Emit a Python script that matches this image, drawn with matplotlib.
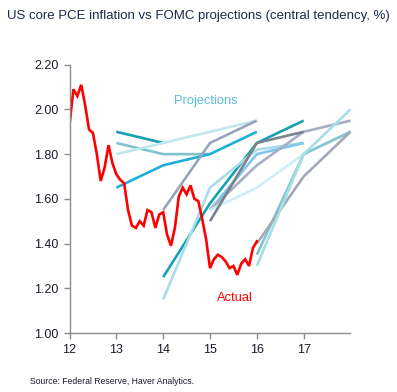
import matplotlib
matplotlib.use("Agg")
import matplotlib.pyplot as plt

plt.rcParams['font.family'] = ['Liberation Sans', 'DejaVu Sans']

# Actual core PCE inflation, monthly Jan 2012 - Jan 2016
actual = [1.93, 2.09, 2.06, 2.11, 2.02, 1.91, 1.895, 1.80, 1.68, 1.74, 1.84, 1.76,
          1.71, 1.685, 1.67, 1.55, 1.48, 1.47, 1.50, 1.48, 1.55, 1.54, 1.47, 1.53,
          1.54, 1.44, 1.39, 1.47, 1.61, 1.65, 1.62, 1.66, 1.60, 1.59, 1.51, 1.42,
          1.29, 1.33, 1.35, 1.34, 1.32, 1.29, 1.30, 1.26, 1.31, 1.33, 1.30, 1.38,
          1.41]
actual_x = [12 + i / 12 for i in range(len(actual))]

# FOMC projections (central tendency midpoints)
proj_years = [
    [13, 14],
    [13, 14, 15],
    [13, 14, 15, 16],
    [13, 14, 15, 16],
    [14, 15, 16],
    [14, 15, 16, 17],
    [14, 15, 16, 17],
    [15, 16, 17],
    [15, 16, 17, 18],
    [15, 16, 17, 18],
    [15, 16, 17],
    [16, 17, 18],
    [16, 17, 18],
    [16, 17, 18],
]
proj_values = [
    [1.90, 1.85],
    [1.85, 1.80, 1.80],
    [1.80, 1.85, 1.90, 1.95],
    [1.65, 1.75, 1.80, 1.90],
    [1.55, 1.85, 1.95],
    [1.25, 1.58, 1.85, 1.95],
    [1.15, 1.65, 1.82, 1.85],
    [1.55, 1.80, 1.85],
    [1.55, 1.75, 1.90, 1.95],
    [1.55, 1.65, 1.80, 1.90],
    [1.50, 1.85, 1.90],
    [1.35, 1.80, 1.90],
    [1.40, 1.70, 1.90],
    [1.30, 1.80, 2.00],
]
proj_colors = [
    '#16a0b4', '#80c3cb', '#bfe8ee', '#1eaedb',
    '#98a6bb', '#14a3b3', '#a9dde6',
    '#7fc6ec', '#a6afc3', '#cdeef5', '#7b838e',
    '#84c4cd', '#a3aab6', '#a5dfe5',
]

fig = plt.figure(figsize=(3.97, 3.92), dpi=100)
ax = fig.add_axes([69.5 / 397, 59 / 392, 281 / 397, 268.3 / 392])

for xs, ys, c in zip(proj_years, proj_values, proj_colors):
    ax.plot(xs, ys, color=c, lw=1.9, solid_capstyle='butt', clip_on=False)

ax.plot(actual_x, actual, color='#ff0000', lw=1.9, solid_joinstyle='miter')

ax.set_xlim(12, 18)
ax.set_ylim(1.0, 2.2)
ax.set_xticks([12, 13, 14, 15, 16, 17])
ax.set_xticklabels(['12', '13', '14', '15', '16', '17'])
ax.set_yticks([1.0, 1.2, 1.4, 1.6, 1.8, 2.0, 2.2])
ax.set_yticklabels(['1.00', '1.20', '1.40', '1.60', '1.80', '2.00', '2.20'])
for s in ['top', 'right']:
    ax.spines[s].set_visible(False)
for s in ['left', 'bottom']:
    ax.spines[s].set_color('#8c8c8c')
    ax.spines[s].set_linewidth(1.0)
ax.tick_params(axis='both', colors='#8c8c8c', labelcolor='#1a1a2a', labelsize=9,
               length=4, width=1.0, direction='out')
ax.tick_params(axis='x', pad=4)
ax.tick_params(axis='y', pad=4)

ax.text(14.91, 2.038, 'Projections', color='#5bbde0', fontsize=9.3, ha='center', va='center')
ax.text(15.53, 1.157, 'Actual', color='#ff0000', fontsize=9.3, ha='center', va='center')

fig.text(7 / 397, 1 - 16 / 392, 'US core PCE inflation vs FOMC projections (central tendency, %)',
         color='#1c2a4a', fontsize=9.5, ha='left', va='center')
fig.text(30 / 397, 1 - 382 / 392, 'Source: Federal Reserve, Haver Analytics.',
         color='#1a1a2a', fontsize=6.2, ha='left', va='center')

fig.savefig('out.png', dpi=100)
